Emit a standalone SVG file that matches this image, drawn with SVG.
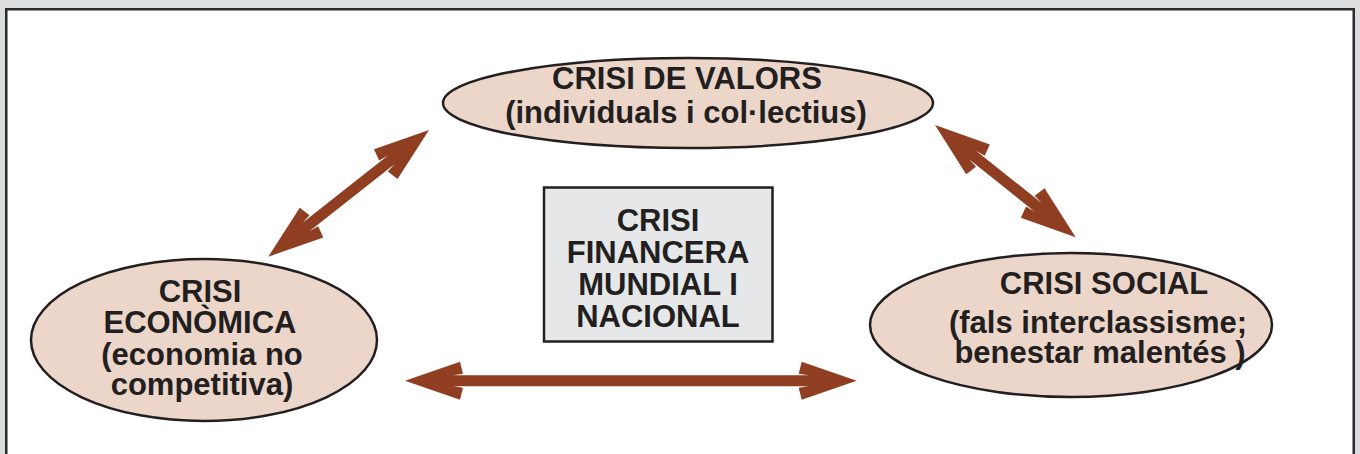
<svg xmlns="http://www.w3.org/2000/svg" width="1360" height="454" viewBox="0 0 1360 454">
  <defs>
    <style>
      .node { fill: #ecd6ca; stroke: #231f20; stroke-width: 2.5; }
      .box { fill: #e6e7e8; stroke: #231f20; stroke-width: 2.5; }
      .t { font-family: "Liberation Sans", Arial, sans-serif; font-weight: bold; font-size: 31px; fill: #231f20; text-anchor: middle; }
      .arrow { fill: #8f3e22; }
    </style>
  </defs>
  <rect x="0" y="0" width="1360" height="454" fill="#dcdddf"/>
  <rect x="6.25" y="9.25" width="1347.5" height="470" fill="#ffffff" stroke="#2b2b2b" stroke-width="2.5"/>

  <g id="connectors">
    <!-- top-left diagonal -->
    <g transform="translate(429,130) rotate(141.75)">
      <polygon class="arrow" points="0,0 55,-19 58,-7 48,-5.5 156.6,-5.5 146.6,-7 149.6,-19 204.6,0 149.6,19 146.6,7 156.6,5.5 48,5.5 58,7 55,19"/>
    </g>
    <!-- top-right diagonal -->
    <g transform="translate(935,125) rotate(38.6)">
      <polygon class="arrow" points="0,0 55,-19 58,-7 48,-5.5 132,-5.5 122,-7 125,-19 180,0 125,19 122,7 132,5.5 48,5.5 58,7 55,19"/>
    </g>
    <!-- bottom horizontal -->
    <g transform="translate(405,380.7)">
      <polygon class="arrow" points="0,0 55,-19 58,-7 48,-5.5 403.7,-5.5 393.7,-7 396.7,-19 451.7,0 396.7,19 393.7,7 403.7,5.5 48,5.5 58,7 55,19"/>
    </g>
  </g>

  <g id="crisi-valors">
    <ellipse class="node" cx="688" cy="103" rx="245" ry="45"/>
    <text class="t" x="687" y="89">CRISI DE VALORS</text>
    <text class="t" x="686" y="123">(individuals i col·lectius)</text>
  </g>

  <g id="crisi-economica">
    <ellipse class="node" cx="204" cy="340" rx="173" ry="81"/>
    <text class="t" x="200" y="302">CRISI</text>
    <text class="t" x="200" y="333">ECONÒMICA</text>
    <text class="t" x="202" y="365">(economia no</text>
    <text class="t" x="202" y="395">competitiva)</text>
  </g>

  <g id="crisi-social">
    <ellipse class="node" cx="1071" cy="325" rx="201" ry="72"/>
    <text class="t" x="1104" y="294">CRISI SOCIAL</text>
    <text class="t" x="1098" y="333">(fals interclassisme;</text>
    <text class="t" x="1100" y="363">benestar malentés )</text>
  </g>

  <g id="crisi-financera">
    <rect class="box" x="544" y="187.5" width="228.5" height="154"/>
    <text class="t" x="658" y="231">CRISI</text>
    <text class="t" x="658" y="263">FINANCERA</text>
    <text class="t" x="658" y="295">MUNDIAL I</text>
    <text class="t" x="658" y="327">NACIONAL</text>
  </g>
</svg>
